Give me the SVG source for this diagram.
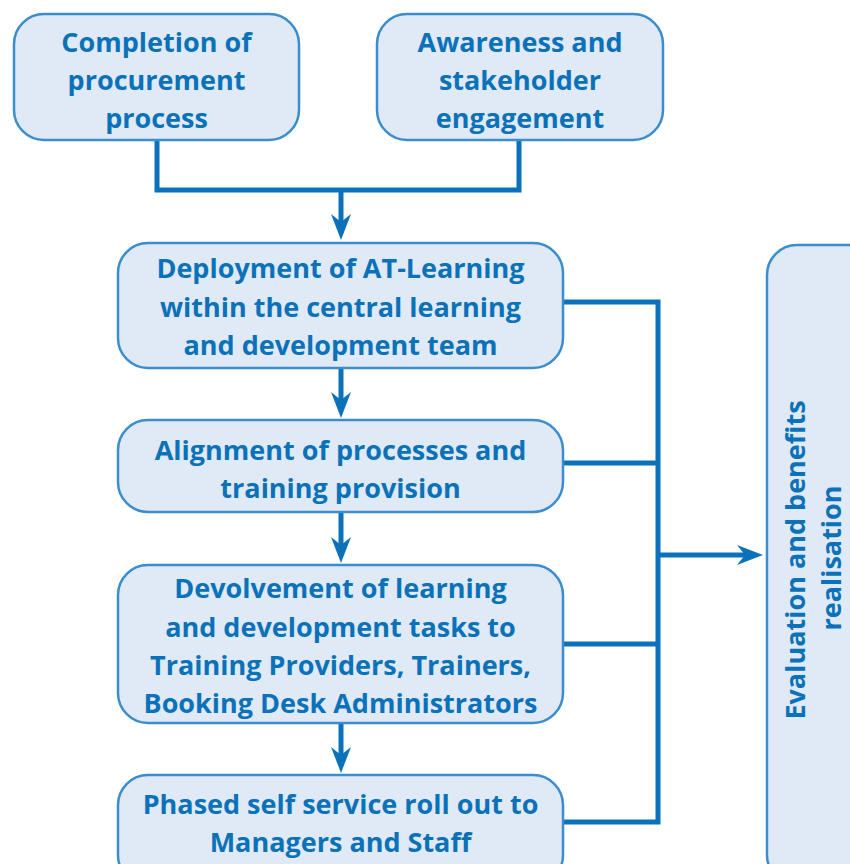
<svg xmlns="http://www.w3.org/2000/svg" width="850" height="864" viewBox="0 0 850 864">
<defs>
<style>
.box{fill:#e0eaf6;stroke:#3b8dcd;stroke-width:2.5}
.t{font-family:"Open Sans","Noto Sans","Liberation Sans",sans-serif;font-weight:700;font-size:27px;fill:#0b72b9;text-anchor:middle}
.c{fill:none;stroke:#0b72b9;stroke-width:5}
.a{fill:none;stroke:#0b72b9;stroke-width:5;marker-end:url(#ah)}
</style>
<marker id="ah" markerUnits="userSpaceOnUse" viewBox="0 0 26 20" refX="8" refY="10" markerWidth="26" markerHeight="20" orient="auto">
<path d="M0,0 L26,10 L0,20 L8,10 z" fill="#0b72b9"/>
</marker>
</defs>
<rect width="850" height="864" fill="#fff"/>
<g id="connectors">
<path class="c" d="M157 140 V190 H519 V140"/>
<path class="a" d="M341 188 V222"/>
<path class="a" d="M341 368 V400"/>
<path class="a" d="M341 512 V545"/>
<path class="a" d="M341 723 V755"/>
<path class="c" d="M563 302 H658 V822 H563"/>
<path class="c" d="M563 463 H658"/>
<path class="c" d="M563 644 H658"/>
<path class="a" d="M658 555 H745"/>
</g>
<g id="n1">
<rect class="box" x="14" y="14" width="285" height="126" rx="30"/>
<text class="t" x="156.5" y="52">Completion of</text>
<text class="t" x="156.5" y="90">procurement</text>
<text class="t" x="156.5" y="128">process</text>
</g>
<g id="n2">
<rect class="box" x="377" y="14" width="286" height="126" rx="30"/>
<text class="t" x="520" y="52">Awareness and</text>
<text class="t" x="520" y="90">stakeholder</text>
<text class="t" x="520" y="128">engagement</text>
</g>
<g id="n3">
<rect class="box" x="118" y="243" width="445" height="125" rx="30"/>
<text class="t" x="340.5" y="278">Deployment of AT-Learning</text>
<text class="t" x="340.5" y="317">within the central learning</text>
<text class="t" x="340.5" y="355">and development team</text>
</g>
<g id="n4">
<rect class="box" x="118" y="420" width="445" height="92" rx="30"/>
<text class="t" x="340.5" y="460">Alignment of processes and</text>
<text class="t" x="340.5" y="498">training provision</text>
</g>
<g id="n5">
<rect class="box" x="118" y="565" width="445" height="158" rx="30"/>
<text class="t" x="340.5" y="598">Devolvement of learning</text>
<text class="t" x="340.5" y="637">and development tasks to</text>
<text class="t" x="340.5" y="675">Training Providers, Trainers,</text>
<text class="t" x="340.5" y="713">Booking Desk Administrators</text>
</g>
<g id="n6">
<rect class="box" x="118" y="775" width="445" height="110" rx="30"/>
<text class="t" x="340.5" y="814">Phased self service roll out to</text>
<text class="t" x="340.5" y="852">Managers and Staff</text>
</g>
<g id="n7">
<rect class="box" x="767" y="245" width="120" height="640" rx="30"/>
<text class="t" transform="translate(805 560) rotate(-90)" x="0" y="0">Evaluation and benefits</text>
<text class="t" transform="translate(841 558) rotate(-90)" x="0" y="0">realisation</text>
</g>
</svg>
